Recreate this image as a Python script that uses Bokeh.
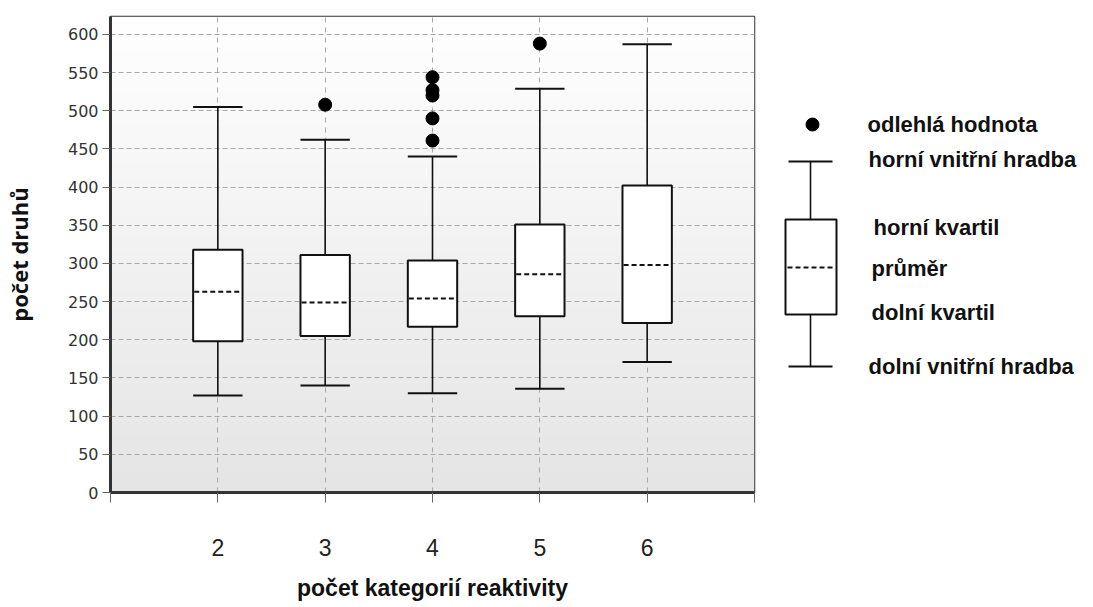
import numpy as np
from bokeh.plotting import figure
from bokeh.layouts import row
from bokeh.models import Range1d, FixedTicker
from bokeh.core.properties import value
from bokeh.embed import file_html
from bokeh.resources import INLINE

# ---- data ----
categories = [2, 3, 4, 5, 6]
fence_low = [127, 140, 130, 136, 171]
q1 = [198, 205, 217, 231, 222]
mean = [263, 249, 254, 286, 298]
q3 = [318, 311, 304, 351, 402]
fence_high = [505, 462, 440, 529, 587]
outlier_cat = [3, 4, 4, 4, 4, 4, 5]
outlier_val = [508, 461, 490, 520, 527, 544, 588]
y_ticks = list(range(0, 601, 50))
x_ticks = [1, 2, 3, 4, 5, 6, 7]
x_tick_labels = {1: "", 2: "2", 3: "3", 4: "4", 5: "5", 6: "6", 7: ""}
legend_labels = ["odlehlá hodnota", "horní vnitřní hradba", "horní kvartil",
                 "průměr", "dolní kvartil", "dolní vnitřní hradba"]
x_title = "počet kategorií reaktivity"
y_title = "počet druhů"

BOX_W = 0.46
CAP_W = 0.46
Y_MAX = 623.5

x = np.array(categories, dtype=float)

p = figure(width=768, height=606, output_backend="svg", toolbar_location=None,
           x_range=Range1d(1, 7), y_range=Range1d(0, Y_MAX),
           min_border_left=108, min_border_right=14, min_border_top=16,
           min_border_bottom=114, background_fill_color="white",
           border_fill_color="white")

# gradient background
n = 256
t = np.linspace(0, 1, n)  # 0 bottom -> 1 top
g = (229 + (255 - 229) * t).astype(np.uint32)
img = np.zeros((n, 1), dtype=np.uint32)
img[:, 0] = (255 << 24) | (g << 16) | (g << 8) | g
p.image_rgba(image=[img], x=1, y=0, dw=6, dh=Y_MAX, level="image")

# grid
p.xgrid.ticker = FixedTicker(ticks=x_ticks)
p.ygrid.ticker = FixedTicker(ticks=y_ticks)
for gr in (p.xgrid, p.ygrid):
    gr.grid_line_color = "#a8a8a8"
    gr.grid_line_width = 1
p.ygrid.grid_line_dash = "5 3"
p.xgrid.grid_line_dash = "5 5"

# whiskers
p.segment(x0=x, y0=np.array(q3), x1=x, y1=np.array(fence_high), line_color="#111111", line_width=1.6)
p.segment(x0=x, y0=np.array(q1), x1=x, y1=np.array(fence_low), line_color="#111111", line_width=1.6)
p.segment(x0=x - CAP_W / 2, y0=fence_high, x1=x + CAP_W / 2, y1=fence_high, line_color="#111111", line_width=2)
p.segment(x0=x - CAP_W / 2, y0=fence_low, x1=x + CAP_W / 2, y1=fence_low, line_color="#111111", line_width=2)

# boxes
p.vbar(x=x, width=BOX_W, bottom=q1, top=q3, fill_color="white", line_color="#111111", line_width=2)
# mean
p.segment(x0=x - BOX_W / 2 + 0.01, y0=mean, x1=x + BOX_W / 2 - 0.01, y1=mean,
          line_color="#111111", line_width=2, line_dash="5 3")
# outliers
p.scatter(x=outlier_cat, y=outlier_val, size=13, color="black")

# axes
p.outline_line_color = "#333333"
p.outline_line_width = 1.5

p.xaxis.ticker = FixedTicker(ticks=x_ticks)
p.xaxis.major_label_overrides = x_tick_labels
p.yaxis.ticker = FixedTicker(ticks=y_ticks)
for ax in (p.xaxis[0], p.yaxis[0]):
    ax.axis_line_color = "#333333"
    ax.axis_line_width = 3
    ax.major_tick_line_color = "#666666"
    ax.major_tick_in = 0
    ax.minor_tick_line_color = None
    ax.axis_label_text_font_style = "bold"
    ax.axis_label_text_color = "#111111"

p.xaxis.major_tick_out = 10
p.xaxis.major_label_standoff = 36
p.xaxis.major_label_text_font = "Liberation Sans"
p.xaxis.major_label_text_font_size = "23px"
p.xaxis.major_label_text_color = "#222222"
p.xaxis.axis_label = x_title
p.xaxis.axis_label_text_font = "Liberation Sans"
p.xaxis.axis_label_text_font_size = "23px"
p.xaxis.axis_label_standoff = 16

p.yaxis.major_tick_out = 8
p.yaxis.major_label_standoff = 4
p.yaxis.major_label_text_font = "DejaVu Sans"
p.yaxis.major_label_text_font_size = "16px"
p.yaxis.major_label_text_color = "#333333"
p.yaxis.axis_label = y_title
p.yaxis.axis_label_text_font = "Open Sans"
p.yaxis.axis_label_text_font_size = "22px"
p.yaxis.axis_label_standoff = 31

# ---- legend panel: y in the same units as the chart (frames are aligned in a row),
#      x in page pixels ----
LX0 = 768
LW = 324
lg = figure(width=LW, height=606, output_backend="svg", toolbar_location=None,
            x_range=Range1d(LX0, LX0 + LW), y_range=Range1d(0, Y_MAX),
            min_border=0, outline_line_color=None, background_fill_color="white")
lg.axis.visible = False
lg.grid.visible = False

lg.scatter(x=[812], y=[482], size=13, color="black")
lg.segment(x0=[788, 788], y0=[433.6, 165], x1=[832, 832], y1=[433.6, 165], line_color="#111111", line_width=2)
lg.segment(x0=[810, 810], y0=[433.6, 233.2], x1=[810, 810], y1=[357.7, 165], line_color="#111111", line_width=1.6)
lg.quad(left=[785], right=[836], top=[357.7], bottom=[233.2], fill_color="white", line_color="#111111", line_width=2)
lg.segment(x0=[787], y0=[294.8], x1=[834], y1=[294.8], line_color="#111111", line_width=2, line_dash="5 3")

lg.text(x=[867, 868, 873, 871, 871, 868], y=[482, 436.3, 347.2, 293.5, 235.8, 165.1], text=legend_labels,
        text_font=value("Liberation Sans"), text_font_style="bold", text_font_size="22px",
        text_color="#111111", text_baseline="middle", text_align="left")

layout = row(p, lg, spacing=0)
open("out.html", "w").write(file_html(layout, INLINE))
